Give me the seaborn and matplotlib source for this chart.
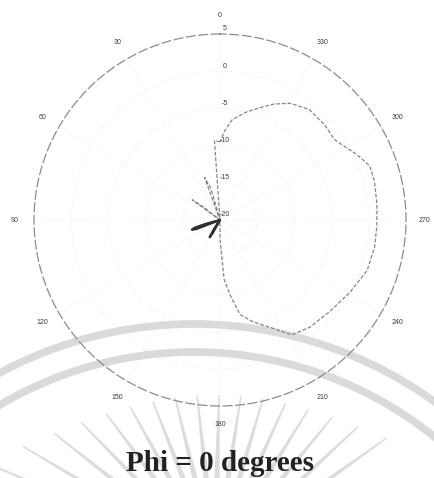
import numpy as np
import pandas as pd
import matplotlib
matplotlib.use("Agg")
import matplotlib.pyplot as plt
from matplotlib.patches import Arc, Polygon
from matplotlib.transforms import offset_copy
import seaborn as sns

# ---- data -----------------------------------------------------------------
# co-polar pattern, angle (deg, CCW from top) and gain (dB, floor -20)
copol_deg = [0, 4, 8, 12, 16, 20, 24, 30, 48, 52, 54, 57, 62, 90, 120, 150, 176,
             180, 184, 188, 192, 198, 206, 212, 220, 230, 241, 251, 260, 268,
             276, 284, 290, 296, 305, 312, 321, 329, 335, 340, 346, 353, 357, 360]
copol_db = [-9.5, -9.3, -20, -20, -15.6, -13.9, -20, -20, -20, -17.0, -15.4, -20, -20,
            -20, -20, -20, -20, -17.4, -12.0, -9.6, -7.0, -5.6, -3.8, -1.8, -1.2,
            -0.8, 0.0, 0.9, 1.1, 1.1, 1.2, 1.4, 1.4, 0.3, -1.2, -1.0, -0.9, -1.7,
            -2.8, -3.9, -5.0, -6.4, -8.0, -9.5]

# cross-polar pattern, mostly below the -20 dB floor
xpol_deg = [0, 40, 80, 100, 105, 107, 109, 111, 114, 130, 143, 146, 149, 151,
            155, 200, 260, 320, 360]
xpol_db = [-20, -20, -20, -20, -18.0, -16.4, -16.0, -16.6, -20, -20, -20, -18.6,
           -17.3, -18.0, -20, -20, -20, -20, -20]

r_ticks = [-20, -15, -10, -5, 0, 5]
r_labels = ["-20", "-15", "-10", "-5", "0", "5"]
theta_ticks = [0, 30, 60, 90, 120, 150, 180, 210, 240, 270, 300, 330]
theta_labels = [str(t) for t in theta_ticks]
title = "Phi = 0 degrees"

# ---- style ----------------------------------------------------------------
sns.set_style("white")
plt.rcParams["font.family"] = ["Liberation Sans", "DejaVu Sans"]

W, H = 435, 478
fig = plt.figure(figsize=(W / 100, H / 100), dpi=100)
fig.patch.set_facecolor("white")

# emblem in the background (two bands and a fan of rays)
bg = fig.add_axes([0, 0, 1, 1], zorder=-5)
bg.set_xlim(0, W)
bg.set_ylim(H, 0)
bg.axis("off")
for rad in (411, 383):
    bg.add_patch(Arc((194, 735), 2 * rad, 2 * rad, theta1=180, theta2=360,
                     color="#dadada", lw=5.5))
fx, fy = 215, 560
for ang in np.arange(-67, 62, 7.6):
    a = np.deg2rad(ang)
    r_tip = 165 / np.cos(a) ** 0.45
    r_base = 40
    ux, uy = np.sin(a), -np.cos(a)
    px, py = np.cos(a), np.sin(a)
    t1 = (fx + r_tip * ux + 0.7 * px, fy + r_tip * uy + 0.7 * py)
    t2 = (fx + r_tip * ux - 0.7 * px, fy + r_tip * uy - 0.7 * py)
    b1 = (fx + r_base * ux + 3.6 * px, fy + r_base * uy + 3.6 * py)
    b2 = (fx + r_base * ux - 3.6 * px, fy + r_base * uy - 3.6 * py)
    bg.add_patch(Polygon([t1, b1, b2, t2], closed=True, color="#dcdcdc", lw=0))

# ---- polar axes -------------------------------------------------------------
ax = fig.add_axes([34 / W, 1 - 406 / H, 372 / W, 372 / H], projection="polar")
ax.set_facecolor("none")
ax.set_theta_zero_location("N")
ax.set_theta_direction(1)
ax.set_ylim(r_ticks[0], r_ticks[-1])
ax.grid(False)
ax.set_xticks([])
ax.set_yticks([])
ax.spines["polar"].set_color("#8c8c8c")
ax.spines["polar"].set_linewidth(0.9)
ax.spines["polar"].set_linestyle((0, (7, 3)))

# dotted grid: circles and spokes
full = np.linspace(0, 2 * np.pi, 361)
for r in r_ticks[1:-1]:
    ax.plot(full, np.full_like(full, r), color="#e2e2e2", lw=0.6, ls=(0, (1, 3)))
for t in theta_ticks:
    ax.plot([np.deg2rad(t)] * 2, [r_ticks[0], r_ticks[-1]], color="#e4e4e4",
            lw=0.6, ls=(0, (1, 4)))

# pattern traces
copol = pd.DataFrame({"theta": np.deg2rad(copol_deg), "gain": copol_db})
xpol = pd.DataFrame({"theta": np.deg2rad(xpol_deg), "gain": xpol_db})
sns.lineplot(data=copol, x="theta", y="gain", ax=ax, sort=False,
             color="#858585", lw=0.9, linestyle=(0, (3, 1.5)))
sns.lineplot(data=xpol, x="theta", y="gain", ax=ax, sort=False,
             color="#303030", lw=1.6)
ax.set_xlabel("")
ax.set_ylabel("")

# angle labels outside the rim
lab_r = r_ticks[-1] + 2.55
for t, s in zip(theta_ticks, theta_labels):
    ax.text(np.deg2rad(t), lab_r, s, ha="center", va="center", fontsize=5,
            color="#3a3a3a", clip_on=False)

# radial labels just right of the 0-degree spoke
rlab_tf = offset_copy(ax.transData, fig=fig, x=5, y=5, units="dots")
for r, s in zip(r_ticks, r_labels):
    ax.text(0.0, r, s, ha="center", va="center", fontsize=5,
            color="#3a3a3a", clip_on=False, transform=rlab_tf)

fig.text(220 / W, 1 - 471 / H, title, ha="center", va="baseline", fontsize=21,
         fontweight="bold", family="Liberation Serif", color="#222222")

fig.savefig("out.png", dpi=100, facecolor="white")
